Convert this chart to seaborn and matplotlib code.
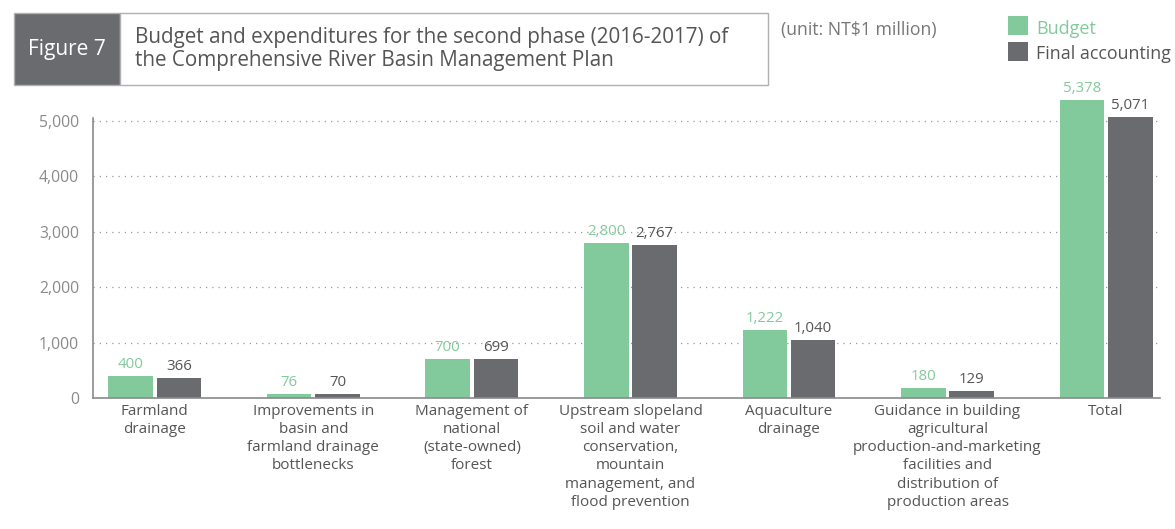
import matplotlib
matplotlib.use("Agg")
import matplotlib.pyplot as plt
from matplotlib.patches import Rectangle
import seaborn as sns
import pandas as pd

categories = [
    "Farmland\ndrainage",
    "Improvements in\nbasin and\nfarmland drainage\nbottlenecks",
    "Management of\nnational\n(state-owned)\nforest",
    "Upstream slopeland\nsoil and water\nconservation,\nmountain\nmanagement, and\nflood prevention",
    "Aquaculture\ndrainage",
    "Guidance in building\nagricultural\nproduction-and-marketing\nfacilities and\ndistribution of\nproduction areas",
    "Total",
]
budget = [400, 76, 700, 2800, 1222, 180, 5378]
final_accounting = [366, 70, 699, 2767, 1040, 129, 5071]
series_names = ["Budget", "Final accounting"]
yticks = [0, 1000, 2000, 3000, 4000, 5000]

GREEN = "#82CA9C"
GRAY = "#6A6B6F"
TXT = "#8A8A8A"

sns.set_theme(style="white")
plt.rcParams["font.family"] = ["Open Sans", "DejaVu Sans"]

df = pd.DataFrame({
    "category": categories * 2,
    "series": [series_names[0]] * len(categories) + [series_names[1]] * len(categories),
    "value": budget + final_accounting,
})

fig = plt.figure(figsize=(11.75, 5.29), dpi=100)
ax = fig.add_axes([93 / 1175, 1 - 398 / 529, (1160 - 93) / 1175, (398 - 95) / 529])

sns.barplot(data=df, x="category", y="value", hue="series", order=categories,
            hue_order=series_names, palette=[GREEN, GRAY], width=0.61, gap=0.08,
            saturation=1, legend=False, ax=ax, edgecolor="none")

top = (398 - 95) / ((398 - 121) / 5000)
ax.set_ylim(0, top)
ax.set_xlim(-0.39, 6.34)
ax.set_yticks(yticks)
ax.set_yticklabels([f"{v:,}" for v in yticks])
ax.set_xlabel("")
ax.set_ylabel("")
ax.tick_params(axis="y", labelsize=11.3, labelcolor=TXT, length=0, pad=10)
ax.tick_params(axis="x", labelsize=11, labelcolor="#555555", length=0, pad=4)
for t in ax.get_xticklabels():
    t.set_linespacing(1.3)

for y in yticks[1:]:
    ax.axhline(y, color="#9A9A9A", linestyle=(0, (1, 4)), linewidth=0.9, zorder=0)

for s in ["top", "right"]:
    ax.spines[s].set_visible(False)
ax.spines["left"].set_bounds(0, 5050)
for s in ["left", "bottom"]:
    ax.spines[s].set_color("#8A8A8A")
    ax.spines[s].set_linewidth(1.2)

for cont, col in zip(ax.containers, [GREEN, "#555555"]):
    ax.bar_label(cont, labels=[f"{v:,.0f}" for v in cont.datavalues],
                 color=col, fontsize=10.8, padding=3)

# Title boxes
fig.patches.append(Rectangle((14 / 1175, 1 - 85 / 529), (120 - 14) / 1175, 72 / 529,
                             transform=fig.transFigure, facecolor=GRAY, edgecolor="#B0B0B0",
                             linewidth=1))
fig.patches.append(Rectangle((120 / 1175, 1 - 85 / 529), (768 - 120) / 1175, 72 / 529,
                             transform=fig.transFigure, facecolor="white", edgecolor="#B0B0B0",
                             linewidth=1))
fig.text(67 / 1175, 1 - 49 / 529, "Figure 7", color="white", fontsize=15,
         ha="center", va="center")
fig.text(135 / 1175, 1 - 49 / 529,
         "Budget and expenditures for the second phase (2016-2017) of\nthe Comprehensive River Basin Management Plan",
         color="#555555", fontsize=14.9, ha="left", va="center", linespacing=1.15)
fig.text(781 / 1175, 1 - 30 / 529, "(unit: NT$1 million)", color="#777777", fontsize=12.7,
         ha="left", va="center")

# Legend
fig.patches.append(Rectangle((1008 / 1175, 1 - 35 / 529), 20 / 1175, 19 / 529,
                             transform=fig.transFigure, facecolor=GREEN, edgecolor="none"))
fig.patches.append(Rectangle((1008 / 1175, 1 - 61 / 529), 20 / 1175, 19 / 529,
                             transform=fig.transFigure, facecolor=GRAY, edgecolor="none"))
fig.text(1036 / 1175, 1 - 29 / 529, series_names[0], color=GREEN, fontsize=13,
         ha="left", va="center")
fig.text(1036 / 1175, 1 - 54 / 529, series_names[1], color="#555555", fontsize=12.8,
         ha="left", va="center")

fig.savefig("out.png", dpi=100)
